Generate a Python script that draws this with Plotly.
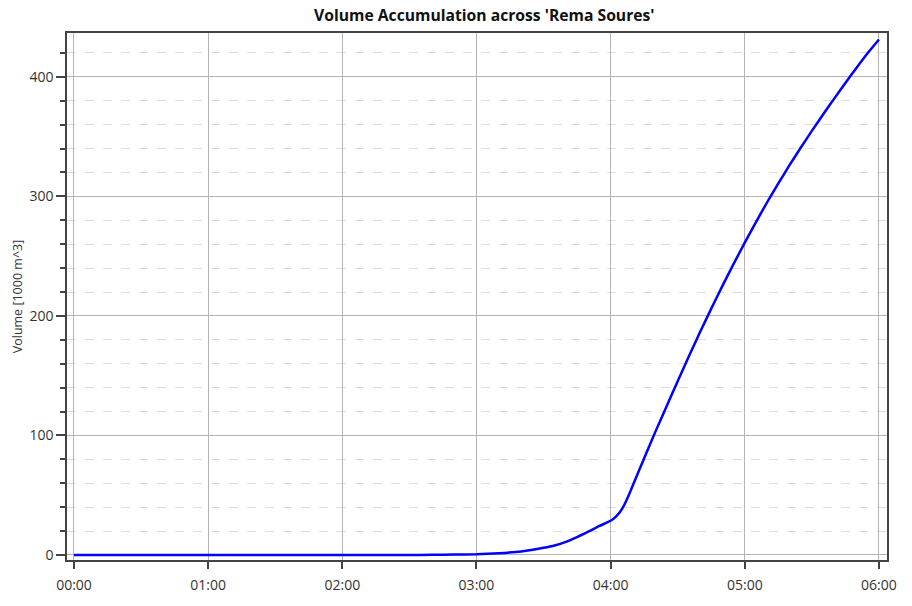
import plotly.graph_objects as go

times = ["00:00", "00:30", "01:00", "01:30", "02:00", "02:30", "02:40", "02:50",
         "03:00", "03:10", "03:20", "03:30", "03:35", "03:40", "03:45", "03:50",
         "03:55", "04:00", "04:02", "04:04", "04:06", "04:08", "04:10", "04:15",
         "04:20", "04:25", "04:30", "04:35", "04:40", "04:45", "04:50", "04:55",
         "05:00", "05:05", "05:10", "05:15", "05:20", "05:25", "05:30", "05:35",
         "05:40", "05:45", "05:50", "05:55", "06:00"]
volume = [0, 0, 0, 0, 0, 0, 0.1, 0.3,
          0.6, 1.5, 3.0, 6.0, 8.0, 11.0, 15.0, 19.5,
          24.3, 28.6, 31.5, 35.5, 41.5, 49.5, 58.5, 81.0,
          103.0, 124.3, 145.4, 166.2, 186.5, 206.1, 225.1, 243.5,
          261.3, 278.5, 295.1, 310.9, 326.1, 340.7, 354.8, 368.5,
          381.8, 394.9, 407.7, 420.0, 431.3]

x_dates = ["2000-01-01 " + t for t in times]

title_text = "Volume Accumulation across 'Rema Soures'"
y_title = "Volume [1000 m^3]"

fig = go.Figure()
fig.add_trace(go.Scatter(
    x=x_dates, y=volume, mode="lines",
    line=dict(color="#0000ff", width=2.5, shape="spline", smoothing=0.4),
    showlegend=False,
))

axis_line = "#444444"
fig.update_layout(
    width=912, height=606,
    margin=dict(l=67, r=25, t=33, b=44),
    paper_bgcolor="white", plot_bgcolor="white",
    font=dict(family="Open Sans, Noto Sans, sans-serif", size=12, color="#333333"),
    title=dict(text="<b>" + title_text + "</b>", x=0.531, xanchor="center",
               y=1 - 16 / 606, yanchor="middle",
               font=dict(size=15.7, color="#111111")),
)
fig.update_xaxes(
    type="date",
    range=["1999-12-31 23:56:53", "2000-01-01 06:03:36"],
    tickformat="%H:%M", dtick=3600000,
    tick0="2000-01-01 00:00",
    showline=True, linecolor=axis_line, linewidth=1.5, mirror=True,
    ticks="outside", ticklen=7, tickcolor=axis_line, tickwidth=1.5,
    ticklabelstandoff=4,
    showgrid=True, gridcolor="#b4b4b4", gridwidth=1,
    zeroline=False,
    tickfont=dict(size=14, color="#333333"),
)
fig.update_yaxes(
    range=[-4.2, 436.7],
    dtick=100, tick0=0,
    showline=True, linecolor=axis_line, linewidth=1.5, mirror=True,
    ticks="outside", ticklen=9, tickcolor=axis_line, tickwidth=1.5,
    showgrid=True, gridcolor="#b4b4b4", gridwidth=1,
    zeroline=False,
    minor=dict(dtick=20, tick0=0, ticks="outside", ticklen=5, tickcolor=axis_line,
               tickwidth=1.5, showgrid=True, gridcolor="#dcdcdc", griddash="dash",
               gridwidth=1),
    title=dict(text=y_title, standoff=4, font=dict(size=12.5, color="#333333")),
    tickfont=dict(size=14, color="#333333"),
)

fig.write_html("out.html", config={"displayModeBar": False},
               post_script="document.body.style.margin='0px';")
